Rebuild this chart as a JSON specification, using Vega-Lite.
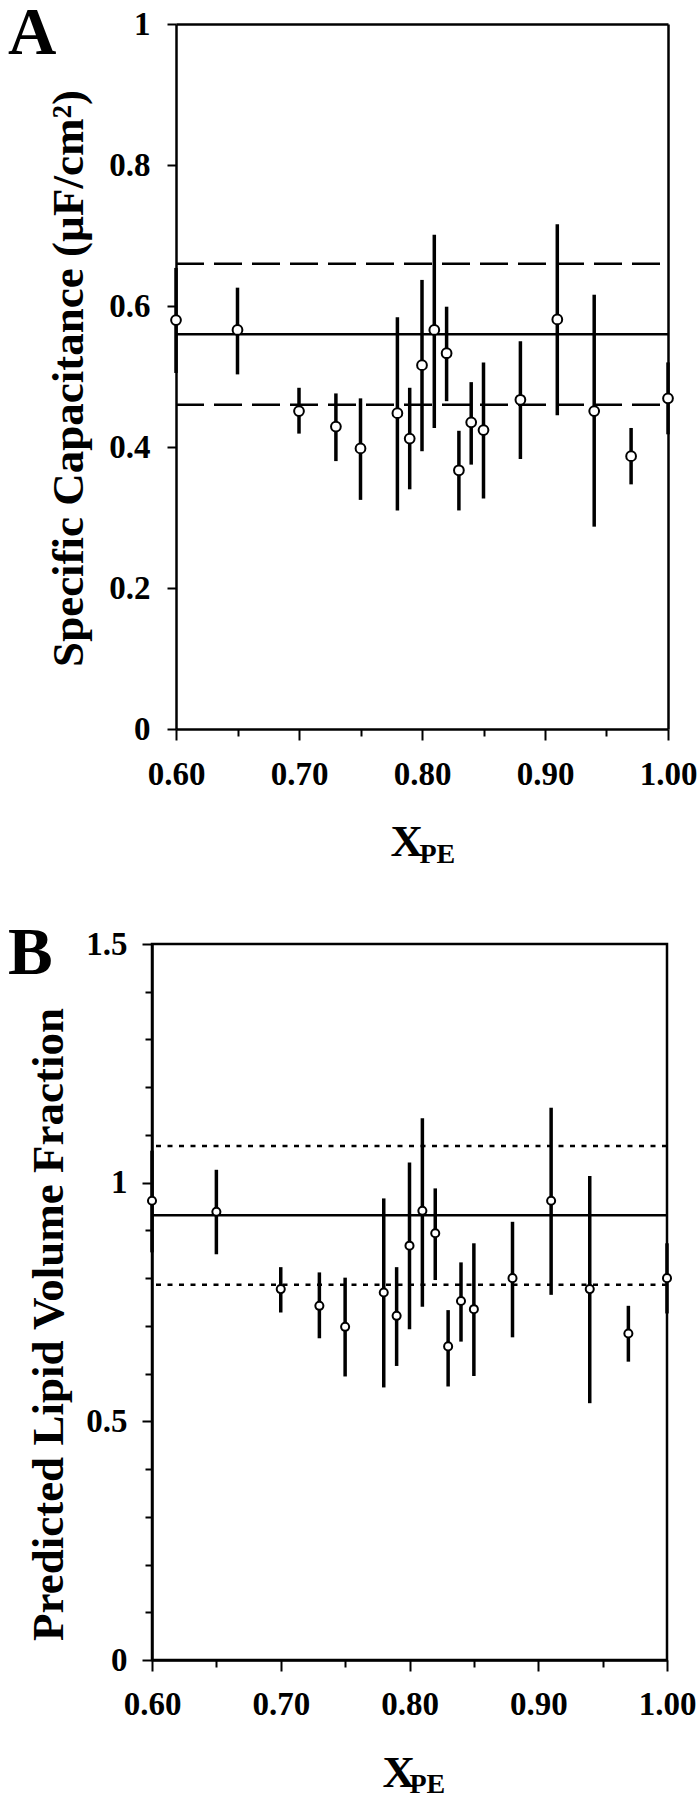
{
  "$schema": "https://vega.github.io/schema/vega-lite/v6.json",
  "background": "white",
  "padding": {"left": 6, "top": 0, "right": 0, "bottom": 0},
  "spacing": 50,
  "config": {
    "font": "Liberation Serif",
    "view": {"stroke": "black", "strokeWidth": 2.5},
    "axis": {
      "domainColor": "black", "domainWidth": 2.5, "tickColor": "black", "tickWidth": 2,
      "labelFont": "Liberation Serif", "labelFontWeight": "bold", "labelFontSize": 33, "labelColor": "black",
      "titleFont": "Liberation Serif", "titleFontWeight": "bold", "titleColor": "black",
      "grid": false, "labelFlush": false, "labelOverlap": false, "labelBound": false
    },
    "title": {"font": "Liberation Serif", "fontWeight": "bold", "color": "black", "fontSize": 67, "anchor": "start", "frame": "group"}
  },
  "datasets": {
    "cap": [
      {"x": 0.60, "y": 0.580, "lo": 0.505, "hi": 0.654},
      {"x": 0.65, "y": 0.566, "lo": 0.503, "hi": 0.626},
      {"x": 0.70, "y": 0.451, "lo": 0.419, "hi": 0.484},
      {"x": 0.73, "y": 0.429, "lo": 0.380, "hi": 0.476},
      {"x": 0.75, "y": 0.398, "lo": 0.325, "hi": 0.469},
      {"x": 0.78, "y": 0.448, "lo": 0.310, "hi": 0.584},
      {"x": 0.79, "y": 0.412, "lo": 0.340, "hi": 0.484},
      {"x": 0.80, "y": 0.516, "lo": 0.394, "hi": 0.637},
      {"x": 0.81, "y": 0.566, "lo": 0.427, "hi": 0.701},
      {"x": 0.82, "y": 0.533, "lo": 0.465, "hi": 0.599},
      {"x": 0.83, "y": 0.367, "lo": 0.310, "hi": 0.423},
      {"x": 0.84, "y": 0.435, "lo": 0.375, "hi": 0.492},
      {"x": 0.85, "y": 0.424, "lo": 0.327, "hi": 0.520},
      {"x": 0.88, "y": 0.467, "lo": 0.383, "hi": 0.550},
      {"x": 0.91, "y": 0.581, "lo": 0.445, "hi": 0.716},
      {"x": 0.94, "y": 0.451, "lo": 0.287, "hi": 0.616},
      {"x": 0.97, "y": 0.387, "lo": 0.347, "hi": 0.427},
      {"x": 1.00, "y": 0.469, "lo": 0.418, "hi": 0.520}
    ],
    "capRef": [
      {"kind": "mean", "value": 0.56},
      {"kind": "upper", "value": 0.66},
      {"kind": "lower", "value": 0.46}
    ],
    "vol": [
      {"x": 0.60, "y": 0.962, "lo": 0.854, "hi": 1.067},
      {"x": 0.65, "y": 0.939, "lo": 0.850, "hi": 1.027},
      {"x": 0.70, "y": 0.777, "lo": 0.728, "hi": 0.823},
      {"x": 0.73, "y": 0.742, "lo": 0.674, "hi": 0.812},
      {"x": 0.75, "y": 0.698, "lo": 0.594, "hi": 0.801},
      {"x": 0.78, "y": 0.770, "lo": 0.571, "hi": 0.967},
      {"x": 0.79, "y": 0.721, "lo": 0.616, "hi": 0.823},
      {"x": 0.80, "y": 0.868, "lo": 0.693, "hi": 1.042},
      {"x": 0.81, "y": 0.941, "lo": 0.740, "hi": 1.135},
      {"x": 0.82, "y": 0.894, "lo": 0.796, "hi": 0.988},
      {"x": 0.83, "y": 0.657, "lo": 0.573, "hi": 0.733},
      {"x": 0.84, "y": 0.752, "lo": 0.667, "hi": 0.833},
      {"x": 0.85, "y": 0.735, "lo": 0.595, "hi": 0.873},
      {"x": 0.88, "y": 0.800, "lo": 0.676, "hi": 0.918},
      {"x": 0.91, "y": 0.962, "lo": 0.765, "hi": 1.157},
      {"x": 0.94, "y": 0.777, "lo": 0.538, "hi": 1.014},
      {"x": 0.97, "y": 0.684, "lo": 0.625, "hi": 0.742},
      {"x": 1.00, "y": 0.800, "lo": 0.726, "hi": 0.873}
    ],
    "volRef": [
      {"kind": "mean", "value": 0.932},
      {"kind": "upper", "value": 1.077},
      {"kind": "lower", "value": 0.786}
    ]
  },
  "vconcat": [
    {
      "width": 516,
      "height": 705,
      "view": {"stroke": null},
      "title": {"text": "A", "dx": -144, "dy": 64},
      "layer": [
        {
          "data": {"name": "capRef"},
          "transform": [{"filter": "datum.kind == 'mean'"}],
          "mark": {"type": "rule", "color": "black", "strokeWidth": 2.5},
          "encoding": {
            "x": {"datum": 0.6, "type": "quantitative",
              "scale": {"domain": [0.6, 1.0], "range": [24, 516], "nice": false, "zero": false},
              "axis": {"orient": "top", "title": null, "ticks": false, "labels": false, "domain": true}},
            "x2": {"datum": 1.0},
            "y": {"field": "value", "type": "quantitative", "title": "Specific Capacitance (µF/cm²)",
              "scale": {"domain": [0, 1], "nice": false, "zero": false},
              "axis": {"orient": "left", "offset": -24, "values": [0, 0.2, 0.4, 0.6, 0.8, 1], "format": "~g", "tickSize": 9, "labelPadding": 17,
                "titleFontSize": 45, "titleAngle": 270, "titleAlign": "center", "titleBaseline": "alphabetic",
                "titleX": -94, "titleY": 354}}
          }
        },
        {
          "data": {"name": "capRef"},
          "transform": [{"filter": "datum.kind != 'mean'"}],
          "mark": {"type": "rule", "color": "black", "strokeWidth": 2.5, "strokeDash": [28, 10]},
          "encoding": {
            "x": {"datum": 0.6, "type": "quantitative", "axis": null},
            "x2": {"datum": 1.0},
            "y": {"field": "value", "type": "quantitative", "title": null,
              "axis": {"orient": "right", "title": null, "ticks": false, "labels": false, "domain": true}}
          }
        },
        {
          "data": {"name": "cap"},
          "mark": {"type": "rule", "color": "black", "strokeWidth": 3.5},
          "encoding": {
            "x": {"field": "x", "type": "quantitative", "title": "X",
              "axis": {"orient": "bottom", "values": [0.6, 0.65, 0.7, 0.75, 0.8, 0.85, 0.9, 0.95, 1.0],
                "labelExpr": "abs(datum.value*10 - round(datum.value*10)) < 0.001 ? format(datum.value, '.2f') : ''",
                "tickSize": {"condition": {"test": "abs(datum.value*10 - round(datum.value*10)) < 0.001", "value": 11}, "value": 7},
                "labelPadding": 18,
                "titleFontSize": 45, "titleAlign": "left", "titleBaseline": "alphabetic", "titleX": 238, "titleY": 126}},
            "y": {"field": "lo", "type": "quantitative", "axis": null},
            "y2": {"field": "hi"}
          }
        },
        {
          "data": {"name": "cap"},
          "mark": {"type": "point", "shape": "circle", "filled": true, "fill": "white", "stroke": "black", "strokeWidth": 2, "size": 95, "opacity": 1},
          "encoding": {
            "x": {"field": "x", "type": "quantitative", "title": "PE",
              "axis": {"orient": "bottom", "domain": false, "ticks": false, "labels": false,
                "titleFontSize": 28, "titleAlign": "left", "titleBaseline": "alphabetic", "titleX": 267, "titleY": 133}},
            "y": {"field": "y", "type": "quantitative", "axis": null}
          }
        }
      ],
      "resolve": {"axis": {"x": "independent", "y": "independent"}}
    },
    {
      "width": 515,
      "height": 716,
      "title": {"text": "B", "dx": -144, "dy": 64},
      "layer": [
        {
          "data": {"name": "volRef"},
          "transform": [{"filter": "datum.kind == 'mean'"}],
          "mark": {"type": "rule", "color": "black", "strokeWidth": 2.5},
          "encoding": {
            "y": {"field": "value", "type": "quantitative", "title": "Predicted Lipid Volume Fraction",
              "scale": {"domain": [0, 1.5], "nice": false, "zero": false},
              "axis": {"values": [0, 0.1, 0.2, 0.3, 0.4, 0.5, 0.6, 0.7, 0.8, 0.9, 1, 1.1, 1.2, 1.3, 1.4, 1.5],
                "labelExpr": "abs(datum.value*2 - round(datum.value*2)) < 0.001 ? format(datum.value, '~g') : ''",
                "tickSize": {"condition": {"test": "abs(datum.value*2 - round(datum.value*2)) < 0.001", "value": 10}, "value": 7},
                "labelPadding": 15,
                "titleFontSize": 45, "titleAngle": 270, "titleAlign": "center", "titleBaseline": "alphabetic",
                "titleX": -90, "titleY": 380}}
          }
        },
        {
          "data": {"name": "volRef"},
          "transform": [{"filter": "datum.kind != 'mean'"}],
          "mark": {"type": "rule", "color": "black", "strokeWidth": 2.5, "strokeDash": [5, 6.5]},
          "encoding": {
            "y": {"field": "value", "type": "quantitative", "title": "Predicted Lipid Volume Fraction"}
          }
        },
        {
          "data": {"name": "vol"},
          "mark": {"type": "rule", "color": "black", "strokeWidth": 3.5},
          "encoding": {
            "x": {"field": "x", "type": "quantitative", "title": "X",
              "scale": {"domain": [0.6, 1.0], "nice": false, "zero": false},
              "axis": {"values": [0.6, 0.65, 0.7, 0.75, 0.8, 0.85, 0.9, 0.95, 1.0],
                "labelExpr": "abs(datum.value*10 - round(datum.value*10)) < 0.001 ? format(datum.value, '.2f') : ''",
                "tickSize": {"condition": {"test": "abs(datum.value*10 - round(datum.value*10)) < 0.001", "value": 11}, "value": 7},
                "labelPadding": 17,
                "titleFontSize": 45, "titleAlign": "left", "titleBaseline": "alphabetic", "titleX": 230, "titleY": 126}},
            "y": {"field": "lo", "type": "quantitative", "title": "Predicted Lipid Volume Fraction"},
            "y2": {"field": "hi"}
          }
        },
        {
          "data": {"name": "vol"},
          "mark": {"type": "point", "shape": "circle", "filled": true, "fill": "white", "stroke": "black", "strokeWidth": 2, "size": 65, "opacity": 1},
          "encoding": {
            "x": {"field": "x", "type": "quantitative", "title": "PE",
              "axis": {"orient": "bottom", "domain": false, "ticks": false, "labels": false,
                "titleFontSize": 28, "titleAlign": "left", "titleBaseline": "alphabetic", "titleX": 257, "titleY": 132}},
            "y": {"field": "y", "type": "quantitative", "title": "Predicted Lipid Volume Fraction"}
          }
        }
      ],
      "resolve": {"axis": {"x": "independent"}}
    }
  ]
}
